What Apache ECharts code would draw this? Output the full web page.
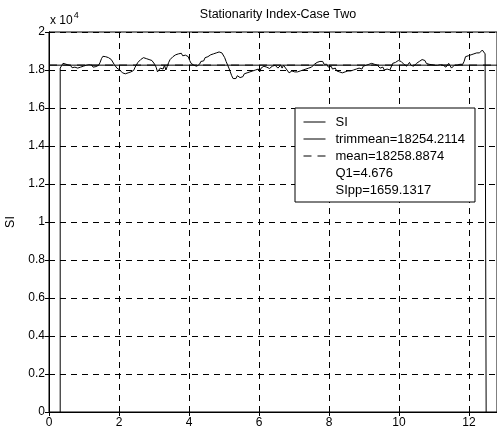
<!DOCTYPE html>
<html>
<head>
<meta charset="utf-8">
<script src="https://cdn.jsdelivr.net/npm/echarts@6/dist/echarts.min.js"></script>
<style>
html,body{margin:0;padding:0;background:#fff;}
#chart{width:497px;height:436px;}
</style>
</head>
<body>
<div id="chart"></div>
<script>
// ---- Data ----
var chartTitle = 'Stationarity Index-Case Two';
var yAxisName = 'SI';
var xTicks = [0, 2, 4, 6, 8, 10, 12];
var yTicks = [0, 0.2, 0.4, 0.6, 0.8, 1, 1.2, 1.4, 1.6, 1.8, 2]; // x 10^4
var trimmeanValue = 18254.2114;
var meanValue = 18258.8874;
var q1Value = 4.676;
var sippValue = 1659.1317;

var siTime = [
0.32,0.32,0.34,0.37,0.40,0.43,0.46,0.50,0.54,0.58,0.62,0.66,0.70,0.74,0.78,0.82,0.86,0.90,0.94,0.98,
1.02,1.06,1.10,1.14,1.18,1.22,1.26,1.30,1.34,1.38,1.42,1.46,1.50,1.54,1.58,1.62,1.66,1.70,1.74,1.78,
1.82,1.86,1.90,1.94,1.98,2.02,2.06,2.10,2.14,2.18,2.22,2.26,2.30,2.34,2.38,2.42,2.46,2.50,2.54,2.58,
2.62,2.66,2.70,2.74,2.78,2.82,2.86,2.90,2.94,2.98,3.02,3.06,3.10,3.14,3.18,3.22,3.26,3.30,3.34,3.38,
3.42,3.46,3.50,3.54,3.58,3.62,3.66,3.70,3.74,3.78,3.82,3.86,3.90,3.94,3.98,4.02,4.06,4.10,4.14,4.18,
4.22,4.26,4.30,4.34,4.38,4.42,4.46,4.50,4.54,4.58,4.62,4.66,4.70,4.74,4.78,4.82,4.86,4.90,4.94,4.98,
5.02,5.06,5.10,5.14,5.18,5.22,5.26,5.30,5.34,5.38,5.42,5.46,5.50,5.54,5.58,5.62,5.66,5.70,5.74,5.78,
5.82,5.86,5.90,5.94,5.98,6.02,6.06,6.10,6.14,6.18,6.22,6.26,6.30,6.34,6.38,6.42,6.46,6.50,6.54,6.58,
6.62,6.66,6.70,6.74,6.78,6.82,6.86,6.90,6.94,6.98,7.02,7.06,7.10,7.14,7.18,7.22,7.26,7.30,7.34,7.38,
7.42,7.46,7.50,7.54,7.58,7.62,7.66,7.70,7.74,7.78,7.82,7.86,7.90,7.94,7.98,8.02,8.06,8.10,8.14,8.18,
8.22,8.26,8.30,8.34,8.38,8.42,8.46,8.50,8.54,8.58,8.62,8.66,8.70,8.74,8.78,8.82,8.86,8.90,8.94,8.98,
9.02,9.06,9.10,9.14,9.18,9.22,9.26,9.30,9.34,9.38,9.42,9.46,9.50,9.54,9.58,9.62,9.66,9.70,9.74,9.78,
9.82,9.86,9.90,9.94,9.98,10.02,10.06,10.10,10.14,10.18,10.22,10.26,10.30,10.34,10.38,10.42,10.46,10.50,10.54,10.58,
10.62,10.66,10.70,10.74,10.78,10.82,10.86,10.90,10.94,10.98,11.02,11.06,11.10,11.14,11.18,11.22,11.26,11.30,11.34,11.38,
11.42,11.46,11.50,11.54,11.58,11.62,11.66,11.70,11.74,11.78,11.82,11.86,11.90,11.94,11.98,12.02,12.06,12.10,12.14,12.18,
12.22,12.26,12.30,12.34,12.38,12.42,12.46,12.49,12.49
];
var siValue = [
0,18100,18200,18150,18350,18280,18320,18250,18270,18200,18230,18120,18080,18150,18050,18100,18060,18150,18120,18200,
18180,18250,18220,18280,18240,18260,18150,18100,18180,18130,18250,18400,18600,18720,18780,18700,18740,18650,18680,18550,
18500,18300,18250,18100,18150,18000,17950,17850,17900,17800,17900,17850,17950,17900,18000,17980,18150,18250,18400,18350,
18550,18450,18650,18750,18600,18700,18550,18620,18500,18600,18300,18150,17900,17950,18100,18200,18050,18250,18000,18200,
18400,18550,18450,18700,18650,18800,18750,18850,18800,18880,18750,18850,18780,18880,18700,18500,18350,18300,18250,18280,
18200,18250,18300,18450,18550,18480,18650,18600,18700,18650,18800,18750,18850,18800,18900,18850,18950,19020,18900,18800,
18650,18450,18350,18100,17900,17700,17550,17650,17550,17700,17650,17600,17700,17650,17800,17750,17850,17800,17900,17850,
17950,17850,18000,17950,18050,17900,18100,18050,18200,18250,18150,18200,18080,18150,18200,18100,18250,18200,18100,18200,
18250,18100,18250,18150,18050,17950,17850,17800,17950,17850,17900,17800,17900,17850,17950,17900,18000,17950,18050,18000,
18100,18050,18150,18200,18300,18250,18400,18300,18450,18350,18450,18300,18200,18300,18150,18100,18200,18050,18000,18100,
17950,18050,17900,17950,17850,17950,17900,18000,17950,18050,17950,18050,18000,18100,18050,18150,18100,18150,18050,18200,
18150,18250,18200,18300,18250,18350,18250,18300,18200,18250,18150,18100,18050,18150,18000,18100,18050,18150,18000,18100,
18350,18300,18400,18300,18500,18600,18450,18500,18300,18350,18200,18300,18400,18250,18300,18200,18300,18350,18300,18450,
18500,18550,18450,18500,18350,18400,18300,18350,18280,18300,18250,18300,18250,18200,18280,18220,18250,18200,18150,18200,
18350,18280,18100,18200,18250,18150,18250,18200,18300,18250,18300,18450,18700,18800,18750,18850,18800,18750,18850,18800,
18900,18850,18900,18950,19050,18950,18850,18850,0
];

var X_MIN = 0, X_MAX = 12.8;

// ---- Build options ----
var siData = siTime.map(function (t, i) { return [t, siValue[i]]; });
var names = {
  si: 'SI',
  trim: 'trimmean=' + trimmeanValue.toFixed(4),
  mean: 'mean=' + meanValue.toFixed(4),
  q1: 'Q1=' + q1Value,
  sipp: 'SIpp=' + sippValue.toFixed(4)
};
var FONT = '"Liberation Sans", Arial, Helvetica, sans-serif';
var gridDash = [6, 5];
var hidden = 'rgba(255,255,255,0)';

var chart = echarts.init(document.getElementById('chart'), null, {renderer: 'canvas'});
chart.setOption({
  animation: false,
  backgroundColor: '#fff',
  textStyle: {fontFamily: FONT, color: '#000'},
  title: {
    text: chartTitle,
    left: 273, textAlign: 'center', top: 3,
    textStyle: {fontSize: 12.5, fontWeight: 'normal', color: '#000', fontFamily: FONT}
  },
  grid: {left: 49, right: 0, top: 32, bottom: 24, containLabel: false, outerBoundsMode: 'none',
    show: true, borderColor: '#000', borderWidth: 1, backgroundColor: 'transparent'},
  legend: {
    orient: 'vertical',
    left: 295, top: 108,
    padding: [7, 10, 5, 8],
    itemGap: 3,
    itemWidth: 22, itemHeight: 11,
    backgroundColor: '#fff',
    borderColor: '#000', borderWidth: 1, borderRadius: 0,
    selectedMode: false,
    itemStyle: {color: hidden, borderColor: hidden, borderWidth: 0, opacity: 0},
    lineStyle: {width: 1},
    textStyle: {fontSize: 13, color: '#000', fontFamily: FONT, lineHeight: 14, padding: [0, 0, 0, 5]},
    data: [names.si, names.trim, names.mean, names.q1, names.sipp]
  },
  graphic: [{
    type: 'text', left: 50, top: 11,
    style: {
      text: '{b|x 10}{s|4}',
      rich: {
        b: {fontSize: 12, fontFamily: FONT, fill: '#000', verticalAlign: 'bottom', lineHeight: 16},
        s: {fontSize: 9, fontFamily: FONT, fill: '#000', verticalAlign: 'top', lineHeight: 16, padding: [0, 0, 8, 1]}
      }
    }
  }],
  xAxis: [{
    type: 'value', min: X_MIN, max: X_MAX, interval: 2,
    axisLine: {show: true, lineStyle: {color: '#000', width: 1}},
    axisTick: {show: true, inside: true, length: 4, lineStyle: {color: '#000'}},
    axisLabel: {color: '#000', fontSize: 12, fontFamily: FONT, margin: 5, showMaxLabel: false,
      formatter: function (v) { return xTicks.indexOf(v) >= 0 ? String(v) : ''; }},
    splitLine: {show: true, lineStyle: {color: '#000', width: 1, type: gridDash}}
  }, {
    type: 'value', position: 'top', min: X_MIN, max: X_MAX, interval: 2,
    axisLine: {show: true, lineStyle: {color: '#000'}},
    axisTick: {show: true, inside: true, length: 4, lineStyle: {color: '#000'}},
    axisLabel: {show: false}, splitLine: {show: false}
  }],
  yAxis: [{
    type: 'value', min: 0, max: 20000, interval: 2000,
    name: yAxisName, nameLocation: 'middle', nameGap: 29,
    nameTextStyle: {fontSize: 12.5, color: '#000', fontFamily: FONT},
    axisLine: {show: true, lineStyle: {color: '#000', width: 1}},
    axisTick: {show: true, inside: true, length: 4, lineStyle: {color: '#000'}},
    axisLabel: {color: '#000', fontSize: 12, fontFamily: FONT, margin: 4,
      formatter: function (v) { var t = +(v / 1e4).toFixed(1); return yTicks.indexOf(t) >= 0 ? String(t) : ''; }},
    splitLine: {show: true, lineStyle: {color: '#000', width: 1, type: gridDash}}
  }, {
    type: 'value', position: 'right', min: 0, max: 20000, interval: 2000,
    axisLine: {show: true, lineStyle: {color: '#000'}},
    axisTick: {show: true, inside: true, length: 4, lineStyle: {color: '#000'}},
    axisLabel: {show: false}, splitLine: {show: false}
  }],
  series: [{
    name: names.si, type: 'line', data: siData, symbol: 'none', showSymbol: false,
    lineStyle: {color: '#000', width: 1}, itemStyle: {color: '#000'}, z: 3
  }, {
    name: names.trim, type: 'line', data: [[X_MIN, trimmeanValue], [X_MAX, trimmeanValue]], symbol: 'none',
    lineStyle: {color: '#000', width: 1}, itemStyle: {color: '#000'}, z: 4
  }, {
    name: names.mean, type: 'line', data: [[X_MIN, meanValue], [X_MAX, meanValue]], symbol: 'none',
    lineStyle: {color: '#000', width: 1, type: [8, 6]}, itemStyle: {color: '#000'}, z: 4
  }, {
    name: names.q1, type: 'line', data: [], symbol: 'none',
    lineStyle: {color: hidden, width: 1}, itemStyle: {color: hidden}
  }, {
    name: names.sipp, type: 'line', data: [], symbol: 'none',
    lineStyle: {color: hidden, width: 1}, itemStyle: {color: hidden}
  }]
});
</script>
</body>
</html>
